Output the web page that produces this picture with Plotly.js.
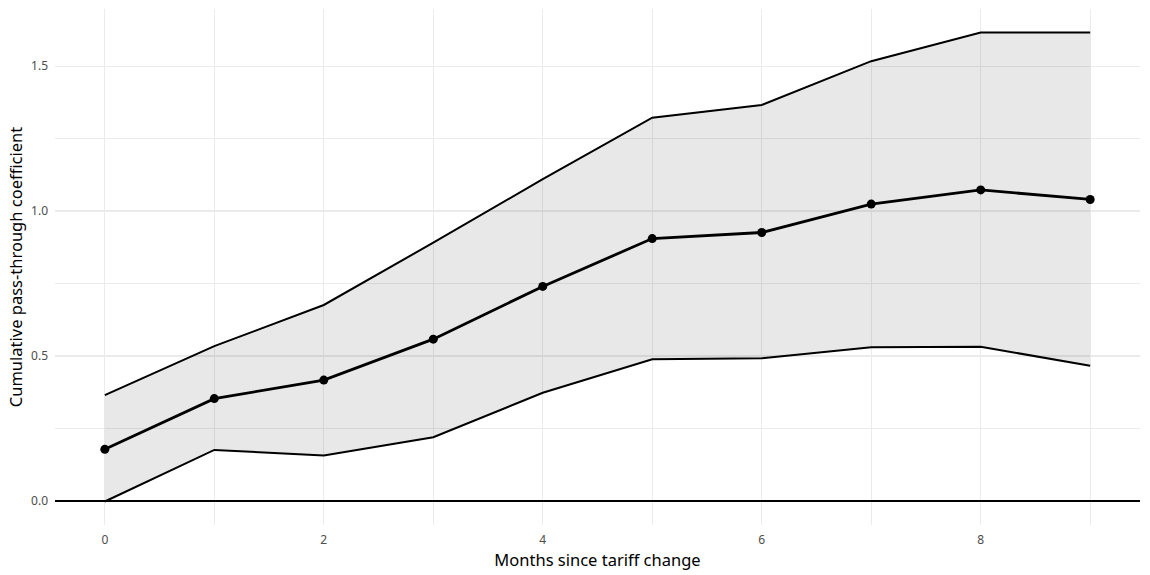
<!DOCTYPE html>
<html>
<head>
<meta charset="utf-8">
<script src="https://cdn.plot.ly/plotly-3.0.1.min.js"></script>
<style>html,body{margin:0;padding:0;background:#fff;}#chart{width:1150px;height:575px;}</style>
</head>
<body>
<div id="chart"></div>
<script>
const months = [0, 1, 2, 3, 4, 5, 6, 7, 8, 9];
const estimate = [0.178, 0.353, 0.417, 0.558, 0.740, 0.905, 0.926, 1.024, 1.073, 1.040];
const upperBound = [0.365, 0.534, 0.676, 0.891, 1.110, 1.322, 1.366, 1.517, 1.616, 1.616];
const lowerBound = [-0.002, 0.176, 0.157, 0.220, 0.373, 0.489, 0.492, 0.530, 0.532, 0.466];
const xTickVals = [0, 2, 4, 6, 8];
const yTickVals = [0.0, 0.5, 1.0, 1.5];
const yTickText = ['0.0', '0.5', '1.0', '1.5'];

const fontFam = 'Noto Sans, Open Sans, sans-serif';

const traces = [
  {x: months, y: lowerBound, mode: 'lines', line: {color: '#000', width: 2}, hoverinfo: 'skip', showlegend: false},
  {x: months, y: upperBound, mode: 'lines', fill: 'tonexty', fillcolor: 'rgba(0,0,0,0.09)', line: {color: '#000', width: 2}, hoverinfo: 'skip', showlegend: false},
  {x: months, y: estimate, mode: 'lines+markers', line: {color: '#000', width: 2.8}, marker: {color: '#000', size: 9}, showlegend: false}
];

const layout = {
  width: 1150, height: 575,
  margin: {l: 55, r: 10, t: 9, b: 50},
  paper_bgcolor: '#fff', plot_bgcolor: '#fff',
  font: {family: fontFam, color: '#4d4d4d', size: 12},
  xaxis: {
    range: [-0.455, 9.455],
    tickvals: xTickVals,
    ticktext: xTickVals.map(String),
    showgrid: true, gridcolor: '#ebebeb', gridwidth: 1.2,
    minor: {dtick: 1, tick0: 0, showgrid: true, gridcolor: '#ebebeb', gridwidth: 1.2},
    zeroline: false, showline: false, ticks: '',
    ticklabelstandoff: 6,
    tickfont: {size: 12, color: '#4d4d4d'},
    title: {text: 'Months since tariff change', font: {size: 16.5, color: '#000'}, standoff: 2}
  },
  yaxis: {
    range: [-0.083, 1.697],
    tickvals: yTickVals,
    ticktext: yTickText,
    showgrid: true, gridcolor: '#ebebeb', gridwidth: 1.2,
    minor: {dtick: 0.25, tick0: 0, showgrid: true, gridcolor: '#ebebeb', gridwidth: 1.2},
    zeroline: true, zerolinecolor: '#000', zerolinewidth: 1.6,
    showline: false, ticks: '',
    ticklabelstandoff: 6,
    tickfont: {size: 12, color: '#4d4d4d'},
    title: {text: 'Cumulative pass-through coefficient', font: {size: 16.5, color: '#000'}, standoff: 4}
  }
};

Plotly.newPlot('chart', traces, layout, {displayModeBar: false, staticPlot: true});
</script>
</body>
</html>
